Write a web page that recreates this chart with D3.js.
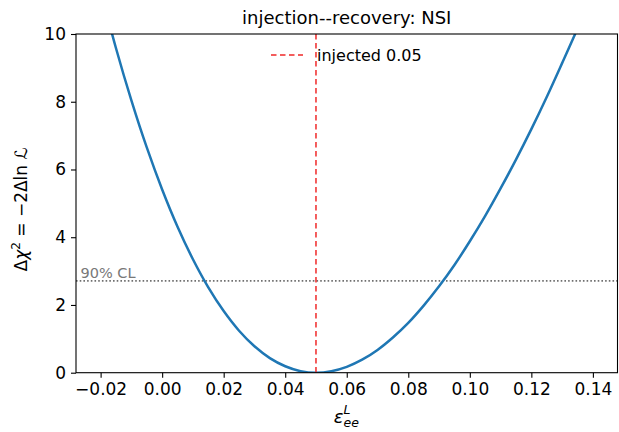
<!DOCTYPE html>
<html>
<head>
<meta charset="utf-8">
<script src="https://cdn.jsdelivr.net/npm/d3@7"></script>
<style>
  body { margin: 0; background: #fff; }
  text { font-family: "DejaVu Sans", sans-serif; }
</style>
</head>
<body>
<div id="chart"></div>
<script>
//////////////////////////////////////////////////////////////////////////////
// data

var epsVals = [-0.020, -0.015, -0.010, -0.005, 0.000, 0.005, 0.010, 0.015, 0.020,
               0.025, 0.030, 0.035, 0.040, 0.045, 0.050, 0.055, 0.060, 0.065,
               0.070, 0.075, 0.080, 0.085, 0.090, 0.095, 0.100, 0.105, 0.110,
               0.115, 0.120, 0.125, 0.130, 0.135, 0.140];
var dchi2Vals = [11.28, 9.58, 8.04, 6.65, 5.41, 4.31, 3.35, 2.52, 1.82,
                 1.24, 0.78, 0.43, 0.19, 0.045, 0.0, 0.045, 0.174, 0.385,
                 0.673, 1.04, 1.47, 1.98, 2.55, 3.18, 3.88, 4.63, 5.44,
                 6.29, 7.19, 8.14, 9.14, 10.16, 11.23];
var injected = 0.05;
var clLevel = 2.71;
var xTicks = [-0.02, 0.00, 0.02, 0.04, 0.06, 0.08, 0.10, 0.12, 0.14];
var yTicks = [0, 2, 4, 6, 8, 10];
var titleText = "injection--recovery: NSI";
var legendText = "injected 0.05";
var clText = "90% CL";

//////////////////////////////////////////////////////////////////////////////
// layout

var W = 619, H = 432;
var mL = 76, mR = 617.5, mT = 34, mB = 372.7;

var x = d3.scaleLinear().domain([-0.028, 0.148]).range([mL, mR]);
var y = d3.scaleLinear().domain([0, 10]).range([mB, mT]);

var svg = d3.select("#chart").append("svg")
    .attr("width", W).attr("height", H);

svg.append("defs").append("clipPath").attr("id", "clip")
    .append("rect")
    .attr("x", mL).attr("y", mT)
    .attr("width", mR - mL).attr("height", mB - mT);

var plot = svg.append("g").attr("clip-path", "url(#clip)");

// 90% CL line
plot.append("line")
    .attr("x1", mL).attr("x2", mR)
    .attr("y1", y(clLevel)).attr("y2", y(clLevel))
    .attr("stroke", "#707070").attr("stroke-width", 1.6)
    .attr("stroke-dasharray", "1.6,2.1");

// profile curve
var pts = epsVals.map(function(e, i) { return [e, dchi2Vals[i]]; });
plot.append("path")
    .datum(pts)
    .attr("d", d3.line()
        .x(function(d) { return x(d[0]); })
        .y(function(d) { return y(d[1]); })
        .curve(d3.curveCatmullRom))
    .attr("fill", "none").attr("stroke", "#1f77b4").attr("stroke-width", 2.5);

// injected value
plot.append("line")
    .attr("x1", x(injected)).attr("x2", x(injected))
    .attr("y1", mT).attr("y2", mB)
    .attr("stroke", "#f02828").attr("stroke-width", 1.5)
    .attr("stroke-dasharray", "5.5,3.5");

svg.append("text")
    .attr("x", x(-0.028) + 4.5).attr("y", y(clLevel) - 3)
    .attr("font-size", 14.5).attr("fill", "#787878")
    .text(clText);

//////////////////////////////////////////////////////////////////////////////
// axes

var xAxis = svg.append("g")
    .attr("transform", "translate(0," + mB + ")")
    .call(d3.axisBottom(x).tickValues(xTicks).tickFormat(d3.format(".2f"))
        .tickSizeOuter(0).tickSize(5).tickPadding(5));
var yAxis = svg.append("g")
    .attr("transform", "translate(" + mL + ",0)")
    .call(d3.axisLeft(y).tickValues(yTicks).tickFormat(d3.format("d"))
        .tickSizeOuter(0).tickSize(5).tickPadding(5));

[xAxis, yAxis].forEach(function(a) {
    a.select(".domain").remove();
    a.selectAll("line").attr("stroke", "#000").attr("stroke-width", 1.1);
    a.selectAll("text").attr("font-size", 17).attr("fill", "#000")
        .attr("font-family", "DejaVu Sans");
});

svg.append("rect")
    .attr("x", mL).attr("y", mT)
    .attr("width", mR - mL).attr("height", mB - mT)
    .attr("fill", "none").attr("stroke", "#000").attr("stroke-width", 1.1);

// title
svg.append("text")
    .attr("x", (mL + mR) / 2).attr("y", 24)
    .attr("text-anchor", "middle").attr("font-size", 18)
    .text(titleText);

// legend
var lg = svg.append("g");
lg.append("line")
    .attr("x1", 271).attr("x2", 303).attr("y1", 55).attr("y2", 55)
    .attr("stroke", "#f02828").attr("stroke-width", 1.5)
    .attr("stroke-dasharray", "5.5,3.5");
lg.append("text")
    .attr("x", 317).attr("y", 61).attr("font-size", 16)
    .text(legendText);

// x label: epsilon_ee^L
var xl = svg.append("text")
    .attr("x", (mL + mR) / 2 - 13).attr("y", 423)
    .attr("font-size", 18);
xl.append("tspan").attr("font-style", "italic").text("\u03b5");
xl.append("tspan").attr("font-style", "italic").attr("font-size", 12.5)
    .attr("dy", -9).text("L");
xl.append("tspan").attr("font-style", "italic").attr("font-size", 12.5)
    .attr("dx", -7).attr("dy", 13).text("ee");

// y label
var yl = svg.append("text")
    .attr("transform", "translate(27," + ((mT + mB) / 2 + 6) + ") rotate(-90)")
    .attr("text-anchor", "middle").attr("font-size", 17);
yl.append("tspan").text("\u0394");
yl.append("tspan").attr("font-style", "italic").text("\u03c7");
yl.append("tspan").attr("font-size", 12).attr("dy", -7).text("2");
yl.append("tspan").attr("dy", 7).text(" = \u22122\u0394ln ");
yl.append("tspan").attr("font-style", "italic").text("\u2112");
</script>
</body>
</html>
